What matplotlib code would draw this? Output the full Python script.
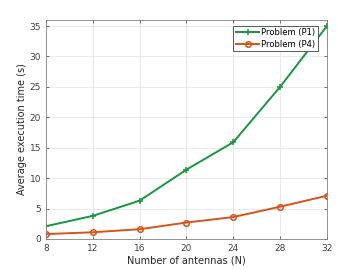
import matplotlib
matplotlib.use("Agg")
import matplotlib.pyplot as plt

antennas = [8, 12, 16, 20, 24, 28, 32]
time_p1 = [2.1, 3.8, 6.3, 11.4, 15.9, 25.0, 35.0]
time_p4 = [0.8, 1.1, 1.6, 2.7, 3.6, 5.3, 7.1]

green = "#13993b"
orange = "#d95319"

fig = plt.figure(figsize=(3.6, 2.7), dpi=100)
ax = fig.add_axes([0.128, 0.115, 0.78, 0.811])

ax.plot(antennas, time_p1, color=green, lw=1.4, marker="+", ms=4.5, mew=1.1,
        label="Problem (P1)")
ax.plot(antennas, time_p4, color=orange, lw=1.4, marker="o", ms=4, mew=1.1,
        mfc="none", label="Problem (P4)")

ax.set_xlim(8, 32)
ax.set_ylim(0, 36)
ax.set_xticks(antennas)
ax.set_yticks(range(0, 36, 5))
ax.grid(True, color="#e6e6e6", lw=0.6)
ax.set_axisbelow(True)
ax.tick_params(labelsize=6.5, colors="#404040", direction="in", length=2.5,
               top=True, right=True, width=0.5)
for s in ax.spines.values():
    s.set_color("#808080")
    s.set_linewidth(0.6)

ax.set_xlabel("Number of antennas (N)", fontsize=7, color="#262626", labelpad=2)
ax.set_ylabel("Average execution time (s)", fontsize=7, color="#262626", labelpad=2)

leg = ax.legend(loc="upper right", bbox_to_anchor=(0.968, 0.973), fontsize=6,
                fancybox=False, framealpha=1, edgecolor="#404040",
                handlelength=2.8, borderpad=0.3, labelspacing=0.3,
                handletextpad=0.25, borderaxespad=0.0)
leg.get_frame().set_linewidth(0.6)

fig.savefig("out.png", dpi=100)
